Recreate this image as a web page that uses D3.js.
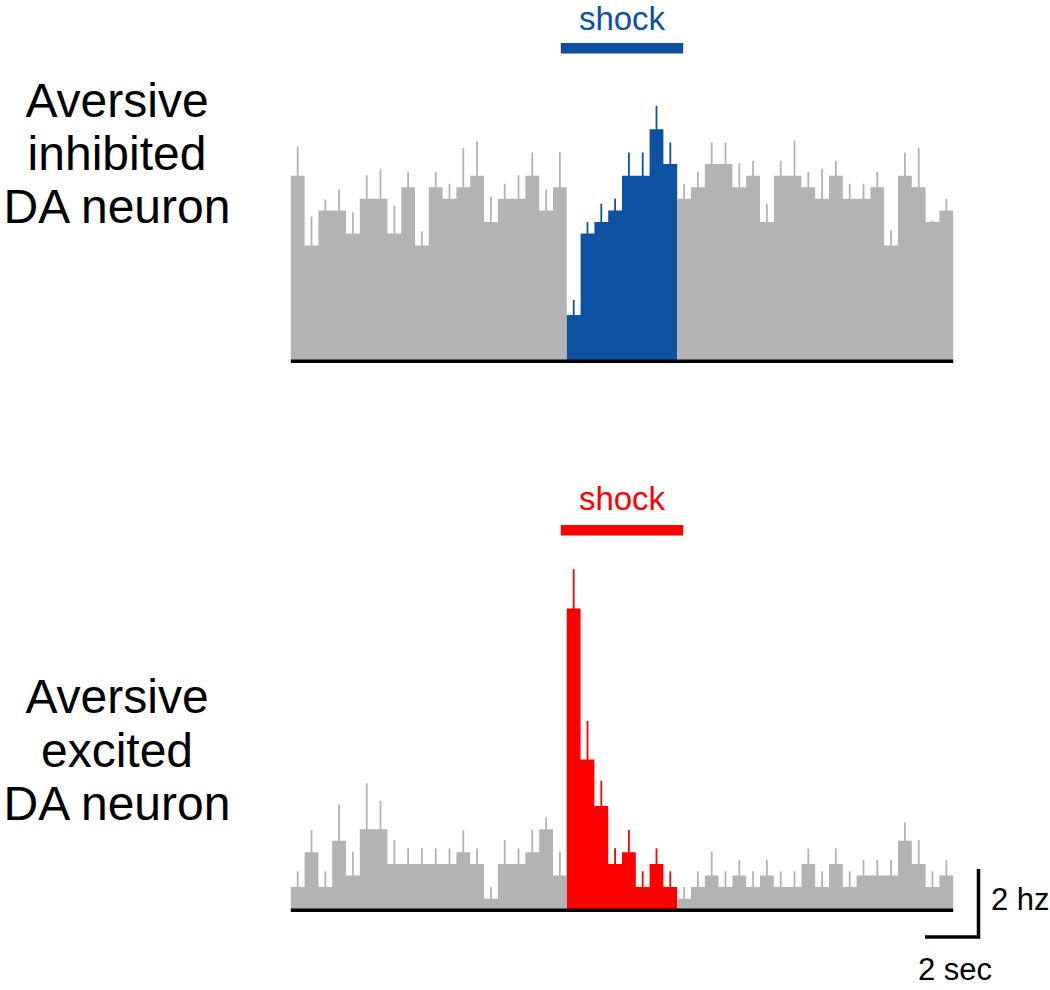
<!DOCTYPE html>
<html>
<head>
<meta charset="utf-8">
<script src="https://cdn.jsdelivr.net/npm/d3@7"></script>
<style>
  html, body { margin: 0; padding: 0; background: #fff; }
  text { font-family: "Liberation Sans", Arial, Helvetica, sans-serif; }
</style>
</head>
<body>
<div id="chart"></div>
<script>
/* PSTH of two DA neurons around a footshock, 0.5 s bins, -10 to 14 s */

var binStart = -10, binWidth = 0.5;   // seconds
var shockOn = 0, shockOff = 4;        // seconds

/* mean firing rate (Hz) and SEM per bin */
var inhibitedRate = [
  5.33, 3.33, 4.33, 4.33, 3.67, 4.67, 4.67, 3.67, 5.00, 3.33,
  5.00, 4.67, 5.00, 5.33, 4.00, 4.67, 4.67, 5.33, 4.33, 5.00,
  1.33, 3.67, 4.00, 4.33, 5.33, 5.33, 6.67, 5.67,
  4.67, 5.00, 5.67, 5.67, 5.00, 5.33, 4.00, 5.33, 5.33, 5.00,
  4.67, 5.33, 4.67, 4.67, 5.00, 3.33, 5.33, 5.00, 4.00, 4.33
];
var inhibitedSem = [
  0.84, 0.83, 0.32, 0.61, 0.61, 0.68, 0.85, 0.80, 0.45, 0.41,
  0.45, 0.43, 1.13, 0.99, 0.73, 0.43, 0.68, 0.67, 0.61, 1.01,
  0.43, 0.33, 0.53, 0.34, 0.67, 0.67, 0.67, 0.62,
  0.43, 0.45, 0.62, 0.62, 0.69, 0.43, 0.53, 0.43, 1.01, 0.45,
  0.86, 0.43, 0.43, 0.43, 0.45, 0.43, 0.67, 1.13, 0.05, 0.34
];
var excitedRate = [
  0.67, 1.67, 0.67, 2.00, 1.00, 2.33, 2.33, 1.33, 1.33, 1.33,
  1.33, 1.33, 1.67, 1.33, 0.33, 1.33, 1.33, 1.67, 2.33, 1.00,
  8.67, 4.33, 3.00, 1.33, 1.67, 0.67, 1.33, 0.67,
  0.33, 0.67, 1.00, 0.67, 1.00, 0.67, 1.00, 0.67, 0.67, 1.33,
  0.67, 1.33, 0.67, 1.00, 1.00, 1.00, 2.00, 1.33, 0.67, 1.00
];
var excitedSem = [
  0.45, 0.64, 0.45, 1.05, 0.69, 1.32, 0.82, 0.69, 0.45, 0.45,
  0.45, 0.45, 0.64, 0.45, 0.34, 0.69, 0.45, 0.64, 0.34, 0.69,
  1.13, 1.11, 0.72, 0.45, 0.64, 0.45, 0.45, 0.45,
  0.34, 0.45, 0.69, 0.45, 0.45, 0.45, 0.45, 0.45, 0.45, 0.45,
  0.45, 0.45, 0.45, 0.45, 0.45, 0.45, 0.53, 0.69, 0.45, 0.45
];

var panelLabels = [
  ['Aversive', 'inhibited', 'DA neuron'],
  ['Aversive', 'excited', 'DA neuron']
];
var shockLabel = 'shock';
var scaleLabels = ['2 hz', '2 sec'];

var W = 1050, H = 990;
var GRAY = '#b3b3b3';

var svg = d3.select('#chart').append('svg')
  .attr('width', W).attr('height', H);

var x = d3.scaleLinear().domain([-10, 14]).range([290.8, 953.2]);
var pxPerHz = 34.8;

var panels = [
  { rate: inhibitedRate, sem: inhibitedSem, color: '#0c51a2', base: 361.3, labelY: 116.7, shockY: 30, barY: 43 },
  { rate: excitedRate,   sem: excitedSem,   color: '#ff0000', base: 910.3, labelY: 713.3, shockY: 510, barY: 525 }
];

panels.forEach(function (p, pi) {
  var y = d3.scaleLinear().domain([0, 10]).range([p.base, p.base - 10 * pxPerHz]);
  var g = svg.append('g');

  var bins = p.rate.map(function (v, i) {
    var t0 = binStart + i * binWidth;
    return { t0: t0, t1: t0 + binWidth, v: v, e: p.sem[i],
             inShock: t0 >= shockOn && t0 < shockOff };
  });

  /* bars: one stepped area per colour run, so no seams between bins */
  var runs = [];
  bins.forEach(function (d) {
    var last = runs[runs.length - 1];
    if (!last || last.inShock !== d.inShock) runs.push(last = { inShock: d.inShock, pts: [] });
    last.pts.push(d);
  });
  var area = d3.area()
    .x(function (d) { return x(d.t); })
    .y0(y(0))
    .y1(function (d) { return y(d.v); })
    .curve(d3.curveStepAfter);
  runs.forEach(function (r) {
    var pts = r.pts.map(function (d) { return { t: d.t0, v: d.v }; });
    var end = r.pts[r.pts.length - 1];
    pts.push({ t: end.t1, v: end.v });
    g.append('path')
      .attr('d', area(pts))
      .attr('fill', r.inShock ? p.color : GRAY);
  });

  /* sem ticks */
  g.selectAll('line.err').data(bins).enter().append('line')
    .attr('class', 'err')
    .attr('x1', function (d) { return x(d.t0 + binWidth / 2); })
    .attr('x2', function (d) { return x(d.t0 + binWidth / 2); })
    .attr('y1', function (d) { return y(d.v) + 0.5; })
    .attr('y2', function (d) { return y(d.v + d.e); })
    .attr('stroke', function (d) { return d.inShock ? p.color : GRAY; })
    .attr('stroke-width', 1.8);

  /* time axis line */
  g.append('line')
    .attr('x1', x(-10)).attr('x2', x(14))
    .attr('y1', p.base).attr('y2', p.base)
    .attr('stroke', '#000').attr('stroke-width', 3.4);

  /* shock bar + label */
  g.append('rect')
    .attr('x', x(shockOn) - 6).attr('width', x(shockOff) - x(shockOn) + 12)
    .attr('y', p.barY).attr('height', 10.5)
    .attr('fill', p.color);
  g.append('text')
    .attr('x', (x(shockOn) + x(shockOff)) / 2).attr('y', p.shockY)
    .attr('text-anchor', 'middle')
    .attr('font-size', 33).attr('fill', p.color)
    .text(shockLabel);

  /* row label */
  panelLabels[pi].forEach(function (line, li) {
    g.append('text')
      .attr('x', 117).attr('y', p.labelY + li * 53.3)
      .attr('text-anchor', 'middle')
      .attr('font-size', 48).attr('fill', '#000')
      .text(line);
  });

  /* scale bar on the lower panel only */
  if (pi === 1) {
    var cx = 978.5, cy = 937;
    var hLen = x(2) - x(0), vLen = y(0) - y(2);
    g.append('path')
      .attr('d', 'M' + (cx - hLen + 1.7) + ',' + cy + 'H' + cx + 'V' + (cy - vLen + 1.7))
      .attr('fill', 'none').attr('stroke', '#000').attr('stroke-width', 3.5);
    g.append('text')
      .attr('x', 991).attr('y', 910)
      .attr('font-size', 31).attr('fill', '#000')
      .text(scaleLabels[0]);
    g.append('text')
      .attr('x', 918).attr('y', 980)
      .attr('font-size', 31).attr('fill', '#000')
      .text(scaleLabels[1]);
  }
});
</script>
</body>
</html>
